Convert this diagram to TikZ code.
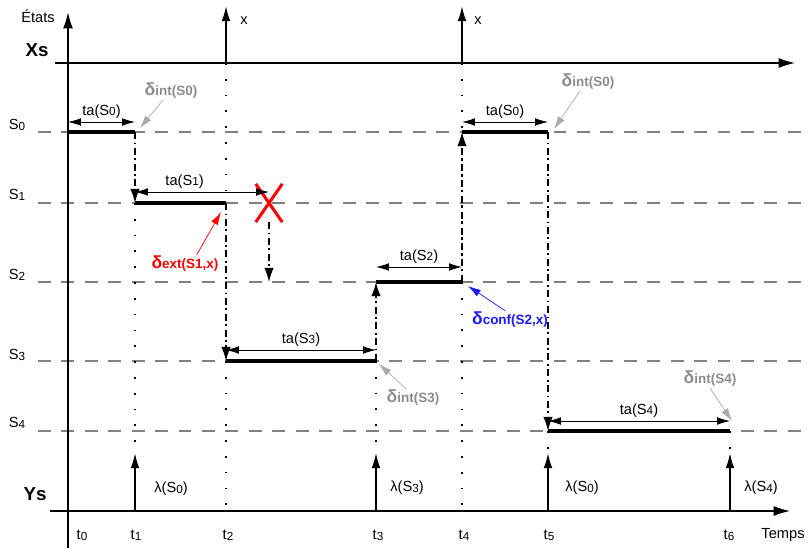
\documentclass[tikz,border=0pt]{standalone}
\usepackage{fontspec}
\setmainfont{Liberation Sans}
\usepackage{tikz}
\usetikzlibrary{arrows.meta, shapes.misc}

\definecolor{annogray}{HTML}{8C8C8C}
\definecolor{levelgray}{HTML}{808080}
\definecolor{confblue}{HTML}{1A1AFF}

\newcommand{\ix}[1]{\raisebox{-0.1ex}{\fontsize{10}{10}\selectfont #1}}
\newcommand{\dlab}[2]{{\bfseries\fontsize{15}{15}\selectfont δ}{\bfseries\fontsize{11.5}{12}\selectfont #1(#2)}}

\tikzset{
  axis/.style={line width=1.5pt, -{Latex[length=14pt,width=8.5pt]}},
  level/.style={levelgray, line width=0.9pt, dash pattern=on 11pt off 9pt},
  seg/.style={line width=3.4pt},
  span/.style={line width=0.7pt, {Latex[length=11pt,width=6.5pt]}-{Latex[length=11pt,width=6.5pt]}},
  jump/.style={line width=1.2pt, dash pattern=on 6pt off 3pt on 1.5pt off 3pt, -{Latex[length=12pt,width=8pt]}},
  dots/.style={line width=1.4pt, dash pattern=on 1.5pt off 12pt},
  evt/.style={line width=1.4pt, -{Latex[length=13pt,width=7.5pt]}},
  note/.style={line width=0.6pt, -{Latex[length=11pt,width=6.5pt]}},
  txt/.style={font=\fontsize{12.5}{14}\selectfont, inner sep=1pt},
}

\begin{document}
\begin{tikzpicture}[x=0.03cm, y=-0.03cm]
  \useasboundingbox (0,0) rectangle (809,548);

  % times on the Ys axis, state levels, helper rows
  \coordinate (T0) at (68,511);
  \coordinate (T1) at (135,511);
  \coordinate (T2) at (226,511);
  \coordinate (TX) at (269,511);
  \coordinate (T3) at (376,511);
  \coordinate (T4) at (462,511);
  \coordinate (T5) at (548,511);
  \coordinate (T6) at (730,511);
  \coordinate (L0) at (38,132);
  \coordinate (L1) at (38,203);
  \coordinate (L2) at (38,282);
  \coordinate (L3) at (38,361);
  \coordinate (L4) at (38,431);
  \coordinate (A0) at (0,122);
  \coordinate (A1) at (0,192);
  \coordinate (A2) at (0,267);
  \coordinate (A3) at (0,350);
  \coordinate (A4) at (0,421);
  \coordinate (XL) at (0,63);
  \coordinate (XT) at (0,6);
  \coordinate (LT) at (0,453);
  \coordinate (E) at (809,548);

  % state levels
  \draw[level] (L0) -- (L0 -| E);
  \draw[level] (L1) -- (L1 -| E);
  \draw[level] (L2) -- (L2 -| E);
  \draw[level] (L3) -- (L3 -| E);
  \draw[level] (L4) -- (L4 -| E);

  % axes
  \coordinate (origin) at (68,548);
  \coordinate (top) at (68,12);
  \draw[axis] (origin) -- (top);
  \coordinate (xsw) at (55,63);
  \coordinate (xse) at (795,63);
  \draw[axis, line width=1.1pt] (xsw) -- (xse);
  \coordinate (ysw) at (50,511);
  \coordinate (yse) at (790,511);
  \draw[axis, line width=1.1pt] (ysw) -- (yse);

  \node[txt] (etats) at (38,16) {États};
  \node[txt, font=\bfseries\fontsize{16}{18}\selectfont] (xs) at (37,50) {Xs};
  \node[txt, font=\bfseries\fontsize{16}{18}\selectfont] (ys) at (35,494) {Ys};
  \node[txt] (temps) at (783,535) {Temps};

  \node[txt] (s0) at (17,125) {S\ix{0}};
  \node[txt] (s1) at (17,195) {S\ix{1}};
  \node[txt] (s2) at (17,275) {S\ix{2}};
  \node[txt] (s3) at (17,355) {S\ix{3}};
  \node[txt] (s4) at (17,423) {S\ix{4}};

  \node[txt] (t0) at (82,535) {t\ix{0}};
  \node[txt] (t1) at (136,535) {t\ix{1}};
  \node[txt] (t2) at (228,535) {t\ix{2}};
  \node[txt] (t3) at (378,535) {t\ix{3}};
  \node[txt] (t4) at (464,535) {t\ix{4}};
  \node[txt] (t5) at (549,535) {t\ix{5}};
  \node[txt] (t6) at (729,535) {t\ix{6}};

  % inputs x
  \draw[evt] (T2 |- XL) -- (T2 |- XT);
  \node[txt] (x1) at (244,21) {x};
  \draw[evt] (T4 |- XL) -- (T4 |- XT);
  \node[txt] (x2) at (478,21) {x};

  % outputs lambda
  \draw[evt] (T1) -- (T1 |- LT);
  \node[txt] (lam1) at (171,489) {λ(S\ix{0})};
  \draw[evt] (T3) -- (T3 |- LT);
  \node[txt] (lam3) at (407,488) {λ(S\ix{3})};
  \draw[evt] (T5) -- (T5 |- LT);
  \node[txt] (lam5) at (582,488) {λ(S\ix{0})};
  \draw[evt] (T6) -- (T6 |- LT);
  \node[txt] (lam6) at (761,488) {λ(S\ix{4})};

  % dotted time marks
  \draw[dots] (T1 |- L1) -- (T1 |- LT);
  \draw[dots] (T2 |- XL) -- (T2 |- L1);
  \draw[dots] (T2 |- L3) -- (T2);
  \draw[dots] (T3 |- L3) -- (T3 |- LT);
  \draw[dots] (T4 |- XL) -- (T4 |- L2);
  \draw[dots] (T4 |- L2) -- (T4);
  \draw[dots] (T5 |- L4) -- (T5 |- LT);
  \draw[dots] (T6 |- L4) -- (T6 |- LT);

  % state segments
  \draw[seg] (T0 |- L0) -- (T1 |- L0);
  \draw[seg] (T1 |- L1) -- (T2 |- L1);
  \draw[seg] (T2 |- L3) -- (T3 |- L3);
  \draw[seg] (T3 |- L2) -- (T4 |- L2);
  \draw[seg] (T4 |- L0) -- (T5 |- L0);
  \draw[seg] (T5 |- L4) -- (T6 |- L4);

  % transitions
  \node[draw=red, cross out, line width=2.6pt, minimum width=20pt, minimum height=30pt, inner sep=0pt] (cross) at (TX |- L1) {};
  \draw[jump] (T1 |- L0) -- (T1 |- L1);
  \draw[jump] (T2 |- L1) -- (T2 |- L3);
  \draw[jump] (cross.south) -- (TX |- L2);
  \draw[jump] (T3 |- L3) -- (T3 |- L2);
  \draw[jump] (T4 |- L2) -- (T4 |- L0);
  \draw[jump] (T5 |- L0) -- (T5 |- L4);

  % time advance
  \draw[span] (T0 |- A0) -- node[txt, above=2pt] (ta0) {ta(S\ix{0})} (T1 |- A0);
  \draw[span] (T1 |- A1) -- node[txt, above=2pt, pos=0.37] (ta1) {ta(S\ix{1})} (TX |- A1);
  \draw[span] (T3 |- A2) -- node[txt, above=2pt] (ta2) {ta(S\ix{2})} (T4 |- A2);
  \draw[span] (T2 |- A3) -- node[txt, above=2pt] (ta3) {ta(S\ix{3})} (T3 |- A3);
  \draw[span] (T4 |- A0) -- node[txt, above=2pt] (ta0b) {ta(S\ix{0})} (T5 |- A0);
  \draw[span] (T5 |- A4) -- node[txt, above=2pt] (ta4) {ta(S\ix{4})} (T6 |- A4);

  % transition functions
  \node[txt, annogray] (dint0) at (171,91) {\dlab{int}{S0}};
  \coordinate (p0) at (140,128);
  \draw[note, annogray!75] ([xshift=-7pt]dint0.south) -- (p0);

  \node[txt, red] (dext) at (185,264) {\dlab{ext}{S1,x}};
  \coordinate (p1) at (221,212);
  \draw[note, red] ([xshift=10pt]dext.north) -- (p1);

  \node[txt, confblue] (dconf) at (510,320) {\dlab{conf}{S2,x}};
  \coordinate (p2) at (468,286);
  \draw[note, confblue] ([xshift=-4pt]dconf.north) -- (p2);

  \node[txt, annogray] (dint3) at (413,398) {\dlab{int}{S3}};
  \coordinate (p3) at (379,364);
  \draw[note, annogray!75] ([xshift=-6pt]dint3.north) -- (p3);

  \node[txt, annogray] (dint0b) at (588,82) {\dlab{int}{S0}};
  \coordinate (p4) at (554,129);
  \draw[note, annogray!75] ([xshift=-7pt]dint0b.south) -- (p4);

  \node[txt, annogray] (dint4) at (710,379) {\dlab{int}{S4}};
  \coordinate (p5) at (732,421);
  \draw[note, annogray!75] (dint4.south) -- (p5);
\end{tikzpicture}
\end{document}
